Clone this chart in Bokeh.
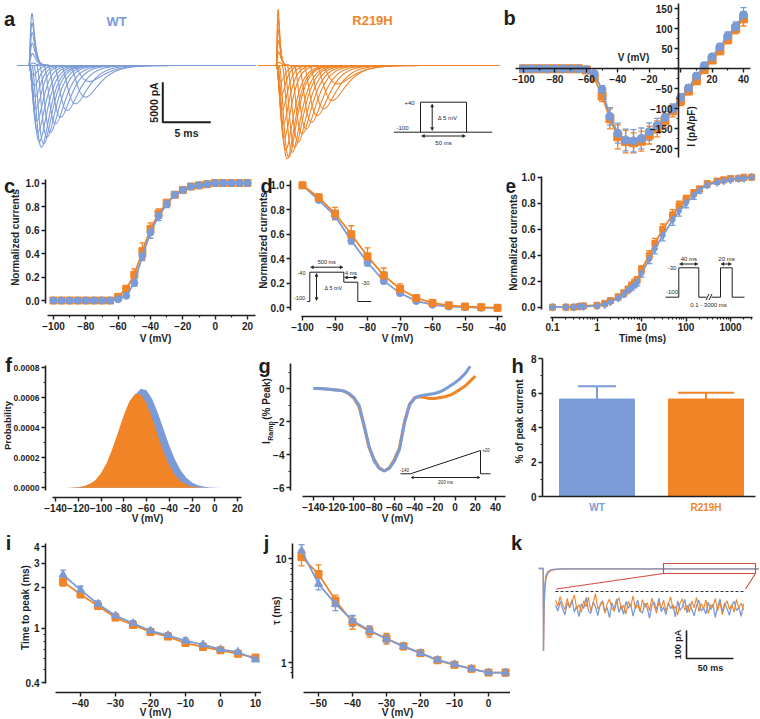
import numpy as np
from bokeh.plotting import figure
from bokeh.layouts import column, row
from bokeh.models import (Range1d, FixedTicker, NumeralTickFormatter, Label, Arrow,
                          NormalHead, TeeHead, Whisker, ColumnDataSource, LinearAxis, LogAxis)
from bokeh.embed import file_html
from bokeh.resources import INLINE

BLUE = "#7B9BD6"
ORANGE = "#F08427"
RED = "#D5493F"
INK = "#1E1E1E"
FONT = "Liberation Sans"

# ======================= data =======================
# (a) sweep families: time to peak (ms) and peak amplitude (pA)
a_wt_tpeak = [6.3, 5.9, 4.86, 4.0, 3.3, 2.78, 2.26, 1.9, 1.56, 1.32, 1.1, 0.95, 0.85, 0.75,
              0.68, 0.6, 0.5, 0.42, 0.38, 0.36, 0.35, 0.34, 0.33]
a_wt_peak = [-2000, -3960, -4790, -5625, -6460, -7290, -8340, -8960, -9790, -10210, -9500, -8300,
             -6900, -5400, -3900, -2500, -1200, 300, 1500, 2800, 4100, 5300, 6500]
a_mut_tpeak = [6.4, 5.83, 4.96, 4.27, 3.68, 3.13, 2.71, 2.29, 1.94, 1.67, 1.31, 1.15, 1.0, 0.85,
               0.75, 0.65, 0.55, 0.5, 0.3, 0.26, 0.24, 0.22, 0.21, 0.2]
a_mut_peak = [-2300, -4375, -5410, -6250, -7090, -7920, -8540, -9590, -10210, -10840, -11460, -11660,
              -10500, -9000, -7300, -5500, -3700, -2000, 400, 1700, 3100, 4500, 5800, 7000]

# (b) I-V relationship (pA/pF)
b_v = [-100, -95, -90, -85, -80, -75, -70, -65, -60, -55, -50, -45, -40, -35, -30, -25, -20, -15,
       -10, -5, 0, 5, 10, 15, 20, 25, 30, 35, 40]
b_wt = [0, 0, 0, 0, 0, 0, 0, 0, -2, -12, -52, -119, -161, -178, -180, -174, -157, -142, -122, -100,
        -72, -48, -18, 8, 30, 55, 82, 105, 135]
b_wt_err = [1, 1, 1, 1, 1, 1, 1, 1, 2, 5, 10, 22, 25, 27, 28, 26, 22, 18, 15, 12, 10, 8, 6, 5, 6, 8,
            10, 12, 18]
b_mut = [0, 0, 0, 0, 0, 0, 0, 0, -3, -22, -68, -125, -170, -182, -185, -181, -166, -150, -130, -105,
         -80, -55, -30, -2, 22, 45, 73, 100, 125]
b_mut_err = [1, 1, 1, 1, 1, 1, 1, 1, 3, 7, 14, 25, 30, 28, 25, 25, 22, 20, 18, 15, 12, 10, 8, 6, 7,
             8, 10, 12, 18]

# (c) activation
c_v = [-100, -95, -90, -85, -80, -75, -70, -65, -60, -55, -50, -45, -40, -35, -30, -25, -20, -15,
       -10, -5, 0, 5, 10, 15, 20]
c_wt = [0, 0, 0, 0, 0, 0, 0, 0, 0.01, 0.04, 0.15, 0.38, 0.58, 0.72, 0.82, 0.9, 0.94, 0.97, 0.98,
        0.99, 1.0, 1.0, 1.0, 1.0, 1.0]
c_wt_err = [0.005, 0.005, 0.005, 0.005, 0.005, 0.005, 0.005, 0.005, 0.008, 0.01, 0.03, 0.04, 0.05,
            0.04, 0.03, 0.02, 0.015, 0.01, 0.01, 0.01, 0.005, 0.005, 0.005, 0.005, 0.005]
c_mut = [0, 0, 0, 0, 0, 0, 0, 0, 0.03, 0.1, 0.22, 0.42, 0.61, 0.74, 0.83, 0.9, 0.94, 0.97, 0.98,
         0.99, 1.0, 1.0, 1.0, 1.0, 1.0]
c_mut_err = [0.005, 0.005, 0.005, 0.005, 0.005, 0.005, 0.005, 0.005, 0.01, 0.02, 0.05, 0.07, 0.05,
             0.04, 0.03, 0.02, 0.015, 0.01, 0.01, 0.01, 0.005, 0.005, 0.005, 0.005, 0.005]

# (d) steady-state inactivation
d_v = [-100, -95, -90, -85, -80, -75, -70, -65, -60, -55, -50, -45, -40]
d_wt = [1.0, 0.88, 0.75, 0.55, 0.37, 0.22, 0.12, 0.055, 0.025, 0.01, 0.005, 0.0, 0.0]
d_wt_err = [0.01, 0.02, 0.03, 0.03, 0.03, 0.025, 0.02, 0.012, 0.01, 0.006, 0.005, 0.003, 0.003]
d_mut = [1.0, 0.9, 0.77, 0.6, 0.42, 0.265, 0.155, 0.08, 0.04, 0.02, 0.01, 0.005, 0.0]
d_mut_err = [0.01, 0.03, 0.05, 0.07, 0.07, 0.06, 0.04, 0.02, 0.015, 0.01, 0.006, 0.005, 0.003]

# (e) recovery from inactivation
e_t = [0.1, 0.2, 0.3, 0.4, 0.5, 1, 1.5, 2, 3, 4, 5, 6, 7, 8, 10, 15, 20, 30, 50, 70, 100, 150, 200,
       300, 500, 700, 1000, 1500, 2000, 3000]
e_wt = [0, 0, 0, 0.005, 0.005, 0.01, 0.02, 0.04, 0.07, 0.1, 0.13, 0.15, 0.17, 0.19, 0.26, 0.37,
        0.45, 0.55, 0.67, 0.74, 0.8, 0.86, 0.9, 0.94, 0.96, 0.97, 0.98, 0.99, 0.99, 1.0]
e_wt_err = [0, 0, 0, 0, 0, 0.005, 0.01, 0.01, 0.015, 0.02, 0.02, 0.02, 0.02, 0.025, 0.03, 0.035,
            0.04, 0.04, 0.04, 0.04, 0.035, 0.03, 0.025, 0.02, 0.015, 0.01, 0.01, 0.01, 0.01, 0.01]
e_mut = [0, 0, 0, 0.005, 0.01, 0.015, 0.03, 0.05, 0.08, 0.11, 0.14, 0.17, 0.19, 0.21, 0.29, 0.4,
         0.49, 0.6, 0.71, 0.78, 0.83, 0.88, 0.91, 0.95, 0.97, 0.98, 0.99, 0.99, 1.0, 1.0]
e_mut_err = [0, 0, 0, 0, 0, 0.005, 0.01, 0.01, 0.015, 0.02, 0.02, 0.02, 0.025, 0.025, 0.03, 0.035,
             0.04, 0.04, 0.04, 0.035, 0.03, 0.025, 0.02, 0.02, 0.015, 0.01, 0.01, 0.01, 0.01, 0.01]

# (f) window probability (x 1e-6)
f_v = [-140, -135, -130, -125, -120, -115, -110, -105, -100, -95, -90, -85, -80, -75, -70, -65,
       -60, -55, -50, -45, -40, -35, -30, -25, -20, -15, -10, -5, 0, 5, 10, 15, 20]
f_wt_1e6 = [0, 0, 0.3, 1.5, 4.8, 11, 23, 46, 84, 143, 224, 324, 434, 538, 618, 658, 648, 590, 498,
            389, 282, 189, 117, 67, 36, 17.5, 8, 3.4, 1.3, 0.5, 0.2, 0, 0]
f_mut_1e6 = [0, 0, 0.5, 1.5, 4.4, 11, 25, 51, 96, 165, 259, 370, 483, 576, 625, 620, 560, 462, 347,
             238, 149, 85, 44, 21, 9, 3.5, 1.3, 0.4, 0, 0, 0, 0, 0]

# (g) ramp currents (% peak)
g_v = [-140, -135, -130, -125, -120, -115, -110, -105, -100, -95, -90, -85, -80, -75, -70, -65,
       -60, -55, -50, -45, -40, -35, -30, -25, -20, -15, -10, -5, 0, 5, 10, 15, 20]
g_wt = [0.0, 0.0, -0.02, -0.04, -0.07, -0.1, -0.16, -0.3, -0.55, -1.0, -2.2, -3.5, -4.4, -4.85,
        -5.0, -4.85, -4.4, -3.7, -2.1, -1.0, -0.6, -0.45, -0.4, -0.35, -0.3, -0.2, -0.05, 0.15,
        0.35, 0.6, 0.9, 1.35]
g_mut = [0.0, 0.0, -0.02, -0.04, -0.07, -0.1, -0.16, -0.32, -0.6, -1.1, -2.3, -3.6, -4.3, -4.8,
         -5.0, -4.8, -4.3, -3.6, -2.0, -0.95, -0.55, -0.5, -0.55, -0.6, -0.6, -0.55, -0.5, -0.4,
         -0.25, -0.05, 0.15, 0.45, 0.75]

# (h) persistent current (% of peak)
h_groups = ["WT", "R219H"]
h_mean = [5.65, 5.65]
h_sem = [0.74, 0.36]

# (i) time to peak (ms)
i_v = [-45, -40, -35, -30, -25, -20, -15, -10, -5, 0, 5, 10]
i_wt = [2.48, 1.92, 1.51, 1.24, 1.09, 0.96, 0.89, 0.81, 0.76, 0.70, 0.67, 0.59]
i_wt_err = [0.2, 0.12, 0.08, 0.05, 0.05, 0.04, 0.04, 0.04, 0.02, 0.02, 0.02, 0.02]
i_mut = [2.2, 1.78, 1.46, 1.2, 1.06, 0.94, 0.87, 0.78, 0.73, 0.69, 0.65, 0.61]
i_mut_err = [0.15, 0.1, 0.06, 0.04, 0.04, 0.03, 0.03, 0.03, 0.02, 0.02, 0.02, 0.02]

# (j) inactivation time constant (ms)
j_v = [-55, -50, -45, -40, -35, -30, -25, -20, -15, -10, -5, 0, 5]
j_wt = [11.9, 5.7, 3.66, 2.53, 2.03, 1.69, 1.43, 1.23, 1.06, 0.96, 0.87, 0.80, 0.80]
j_wt_err = [1.7, 0.7, 0.5, 0.3, 0.2, 0.15, 0.1, 0.08, 0.06, 0.05, 0.03, 0.03, 0.06]
j_mut = [10.3, 7.1, 3.95, 2.45, 2.0, 1.7, 1.43, 1.23, 1.05, 0.95, 0.87, 0.80, 0.80]
j_mut_err = [1.8, 1.6, 0.5, 0.35, 0.25, 0.2, 0.1, 0.08, 0.06, 0.05, 0.03, 0.03, 0.03]

# (k) persistent current: overview trace (ms, pA) and magnified segment (pA, 2.5 ms samples)
k_ov_t = [-4, 6, 6.6, 7.2, 8, 9.5, 12, 16, 22, 32, 50, 480]
k_ov_wt = [0, 0, -10300, -7000, -4200, -2000, -900, -400, -180, -90, -50, -48]
k_ov_mut = [0, 0, -10300, -7600, -5000, -2600, -1300, -600, -280, -130, -55, -48]
k_wt_noise = [-48, -70, -35, -62, -84, -41, -57, -29, -73, -52, -90, -44, -61, -22, -67, -79, -38,
              -55, -86, -47, -33, -71, -58, -93, -40, -64, -26, -75, -50, -82, -36, -60, -45, -88,
              -53, -31, -69, -77, -42, -58, -95, -49, -37, -66, -24, -72, -56, -83, -39, -61, -47,
              -91, -34, -68, -54, -28, -76, -43, -63, -87, -51, -30, -70, -59, -80, -38, -65, -46,
              -92, -55, -27, -74, -41, -62, -85, -49, -35, -68, -57, -89, -44]
k_mut_noise = [-30, -52, -18, -45, -66, -25, -58, -38, -12, -61, -47, -74, -33, -55, -20, -69, -42,
               -8, -63, -50, -36, -78, -44, -27, -59, -71, -39, -22, -65, -48, -81, -35, -54, -16,
               -62, -46, -73, -29, -57, -40, -68, -24, -52, -77, -37, -60, -31, -70, -45, -19, -64,
               -53, -84, -41, -26, -67, -49, -75, -34, -58, -21, -72, -43, -62, -30, -79, -47, -56,
               -25, -69, -38, -83, -51, -33, -64, -46, -74, -28, -59, -42, -66]
K_DT = 2.5


# ======================= helpers =======================
def _map(ca, cb, P, log):
    (pa, va), (pb, vb) = ca, cb
    if log:
        va, vb = np.log10(va), np.log10(vb)
    v = va + (P - pa) * (vb - va) / (pb - pa)
    return float(10 ** v) if log else float(v)


class Panel:
    """A figure whose frame fills its box; (pixel, value) pairs calibrate its scales."""

    def __init__(self, box, xcal, ycal, xlog=False, ylog=False):
        self.box = box
        self.xcal, self.ycal, self.xlog, self.ylog = xcal, ycal, xlog, ylog
        X0, Y0, X1, Y1 = box
        self.p = figure(width=X1 - X0, height=Y1 - Y0,
                        x_range=Range1d(self.x(X0), self.x(X1)),
                        y_range=Range1d(self.y(Y1), self.y(Y0)),
                        x_axis_type="log" if xlog else "linear",
                        y_axis_type="log" if ylog else "linear",
                        x_axis_location=None, y_axis_location=None,
                        output_backend="svg", toolbar_location=None, title=None,
                        min_border=0, min_border_left=0, min_border_right=0,
                        min_border_top=0, min_border_bottom=0,
                        background_fill_color="white", border_fill_color="white",
                        outline_line_color=None)
        self.p.xgrid.visible = False
        self.p.ygrid.visible = False

    def x(self, px):
        return _map(self.xcal[0], self.xcal[1], px, self.xlog)

    def y(self, py):
        return _map(self.ycal[0], self.ycal[1], py, self.ylog)

    def axis(self, side, at_px, span_px, ticks, minor=(), fmt=None, size=10, over=None):
        if side == "below":
            loc = self.y(at_px)
            b = sorted([self.x(span_px[0]), self.x(span_px[1])])
            cls = LogAxis if self.xlog else LinearAxis
        else:
            loc = self.x(at_px)
            b = sorted([self.y(span_px[0]), self.y(span_px[1])])
            cls = LogAxis if self.ylog else LinearAxis
        ax = cls(fixed_location=loc, bounds=(b[0], b[1]))
        ax.ticker = FixedTicker(ticks=list(ticks), minor_ticks=list(minor))
        if fmt is not None:
            ax.formatter = fmt
        if over:
            ax.major_label_overrides = over
        ax.axis_line_color = INK
        ax.axis_line_width = 1.6
        ax.major_tick_line_color = INK
        ax.major_tick_line_width = 1.4
        ax.major_tick_in = 0
        ax.major_tick_out = 4
        ax.minor_tick_line_color = INK
        ax.minor_tick_line_width = 1.2
        ax.minor_tick_in = 0
        ax.minor_tick_out = 2
        ax.major_label_text_font = FONT
        ax.major_label_text_font_size = f"{size}px"
        ax.major_label_text_font_style = "bold"
        ax.major_label_text_color = INK
        ax.major_label_standoff = 2
        self.p.add_layout(ax, side)

    def text(self, x, y, t, size=10, color=INK, align="center", baseline="middle", angle=0.0,
             bold=True):
        X0, Y0, X1, Y1 = self.box
        self.p.add_layout(Label(x=x - X0, y=Y1 - y, x_units="screen", y_units="screen", text=t,
                                text_font=FONT, text_font_size=f"{size}px",
                                text_font_style="bold" if bold else "normal", text_color=color,
                                text_align=align, text_baseline=baseline, angle=angle))

    def vtext(self, x, y, t, size=10):
        self.text(x, y, t, size=size, angle=np.pi / 2)

    def letter(self, x, y, t):
        self.text(x, y, t, size=20)

    def seg(self, x0, y0, x1, y1, color=INK, width=1.0, both=False, hs=4):
        X0, Y0, X1, Y1 = self.box
        kw = dict(x_start=x0 - X0, y_start=Y1 - y0, x_end=x1 - X0, y_end=Y1 - y1,
                  start_units="screen", end_units="screen", line_color=color, line_width=width)
        if both:
            kw["start"] = NormalHead(size=hs, fill_color=color, line_color=color, line_width=0.5)
            kw["end"] = NormalHead(size=hs, fill_color=color, line_color=color, line_width=0.5)
        else:
            kw["end"] = None
        self.p.add_layout(Arrow(**kw))

    def poly(self, pts, color=INK, width=1.0):
        for (x0, y0), (x1, y1) in zip(pts[:-1], pts[1:]):
            self.seg(x0, y0, x1, y1, color, width)


def errbars(p, x, y, e, color, size=6, width=1.3, lower=True):
    y = np.asarray(y, float)
    e = np.asarray(e, float)
    src = ColumnDataSource(dict(x=list(x), lo=list(y - e) if lower else list(y), up=list(y + e)))
    p.add_layout(Whisker(source=src, base="x", lower="lo", upper="up", dimension="height",
                         line_color=color, line_width=width,
                         upper_head=TeeHead(size=size, line_color=color, line_width=width),
                         lower_head=TeeHead(size=size, line_color=color, line_width=width)
                         if lower else None))


def series(p, x, y, err, color, marker, size, lw=1.8):
    errbars(p, x, y, err, color)
    p.line(x, y, line_color=color, line_width=lw)
    p.scatter(x, y, marker=marker, size=size, fill_color=color, line_color=color)


F1 = NumeralTickFormatter(format="0.0")

# ======================= (a) =======================
A = Panel((0, 0, 500, 172), ((28.3, 0.0), (124.3, 10.0)), ((65, 0.0), (185, -15000.0)))
pa = A.p
pa.extra_x_ranges = {"mut": Range1d(_map((275.7, 0.0), (371.7, 10.0), 0, False),
                                    _map((275.7, 0.0), (371.7, 10.0), 500, False))}


def sweep(t, peak, tpeak):
    # m^3 h shaped sweep placed so that its extremum falls on (tpeak, peak)
    delay = max(0.0, 0.85 * (tpeak - 1.0))
    tp = tpeak - delay
    r = 1.0
    u0 = np.log(3 * r + 1)
    tau = tp / u0
    u = np.clip((t - delay) / tau, 0, None)
    s = (1 - np.exp(-u)) ** 3 * np.exp(-u / r)
    s0 = (1 - np.exp(-u0)) ** 3 * np.exp(-u0 / r)
    return peak * s / s0


t_wt = np.arange(-1.2, 23.6, 0.02)
pa.multi_line([t_wt] * len(a_wt_peak), [sweep(t_wt, a, tp) for a, tp in zip(a_wt_peak, a_wt_tpeak)],
              line_color=BLUE, line_width=1.1)
t_mut = np.arange(-1.85, 24.3, 0.02)
pa.multi_line([t_mut] * len(a_mut_peak),
              [sweep(t_mut, a, tp) for a, tp in zip(a_mut_peak, a_mut_tpeak)],
              line_color=ORANGE, line_width=1.1, x_range_name="mut")
SB_T, SB_I = 5, 5000
sb_x, sb_y = A.x(162.3), A.y(121.7)
pa.line([sb_x, sb_x, sb_x + SB_T], [sb_y + SB_I, sb_y, sb_y], line_color=INK, line_width=2)
A.vtext(153, 102, "5000 pA", size=10.5)
A.text(186, 132.5, "5 ms", size=10.5)
A.text(116, 21, "WT", size=13, color=BLUE)
A.text(372, 20, "R219H", size=13, color=ORANGE)
A.letter(9, 18, "a")
A.seg(393.3, 131.7, 491.7, 131.7)
A.poly([(420, 131.7), (420, 101.7), (466, 101.7), (466, 131.7)])
A.seg(431.7, 103.5, 431.7, 130, both=True, hs=3)
A.seg(421, 135.5, 465, 135.5, both=True, hs=3)
A.text(409, 102.5, "+40", size=6, bold=False)
A.text(402, 127.5, "-100", size=6, bold=False)
A.text(447, 117, "Δ 5 mV", size=6, bold=False)
A.text(443, 142, "50 ms", size=6, bold=False)

# ======================= (b) =======================
B = Panel((500, 0, 760, 172), ((523, -100), (743, 40)), ((68.3, 0), (148.3, -200)))
B.axis("below", 68.3, (515, 750), [-100, -80, -60, -40, -20, 0, 20, 40],
       [-90, -70, -50, -30, -10, 10, 30], over={0: ""})
B.axis("left", 678, (157, 3), [-200, -150, -100, -50, 0, 50, 100, 150],
       [-175, -125, -75, -25, 25, 75, 125], over={0: ""})
series(B.p, b_v, b_mut, b_mut_err, ORANGE, "square", 8)
series(B.p, b_v, b_wt, b_wt_err, BLUE, "circle", 8)
B.text(633, 57, "V (mV)")
B.vtext(691, 126, "I (pA/pF)")
B.letter(509, 17, "b")

# ======================= (c) =======================
C = Panel((0, 172, 256, 352), ((53, -100), (247, 20)), ((300, 0), (206, 0.8)))
C.axis("below", 315, (47, 255), [-100, -80, -60, -40, -20, 0, 20], [-90, -70, -50, -30, -10, 10])
C.axis("left", 45, (303, 179), [0, 0.2, 0.4, 0.6, 0.8, 1.0], fmt=F1)
series(C.p, c_v, c_mut, c_mut_err, ORANGE, "square", 7)
series(C.p, c_v, c_wt, c_wt_err, BLUE, "circle", 7)
C.text(155, 338, "V (mV)")
C.vtext(15, 237, "Normalized currents")
C.letter(9, 185, "c")

# ======================= (d) =======================
D = Panel((256, 172, 506, 352), ((302, -100), (497, -40)), ((307.3, 0), (209.3, 0.8)))
D.axis("below", 316, (301, 502), [-100, -90, -80, -70, -60, -50, -40])
D.axis("left", 290, (310, 180), [0, 0.2, 0.4, 0.6, 0.8, 1.0], fmt=F1)
series(D.p, d_v, d_wt, d_wt_err, BLUE, "circle", 7)
series(D.p, d_v, d_mut, d_mut_err, ORANGE, "square", 7)
D.text(397, 338, "V (mV)")
D.vtext(263, 240, "Normalized currents")
D.letter(266, 185, "d")
D.poly([(306.7, 301), (309.3, 301), (309.3, 271.7), (343.3, 271.7), (343.3, 281.7),
        (357.3, 281.7), (357.3, 301), (370.7, 301)])
D.seg(310, 266.7, 342.5, 266.7, both=True, hs=3)
D.seg(344, 277, 356.5, 277, both=True, hs=3)
D.seg(316, 273, 316, 300, both=True, hs=3)
D.text(326.3, 261.5, "500 ms", size=5.5, bold=False)
D.text(350.5, 272, "4 ms", size=5.5, bold=False)
D.text(301, 272, "-40", size=5.5, bold=False)
D.text(299, 297, "-100", size=5.5, bold=False)
D.text(365, 282, "-30", size=5.5, bold=False)
D.text(333, 287, "Δ 5 mV", size=5.5, bold=False)

# ======================= (e) =======================
E = Panel((506, 172, 760, 352), ((552, 0.1), (730, 1000)), ((306.7, 0), (202.7, 0.8)), xlog=True)
e_minor = [m * d for d in (0.1, 1, 10, 100) for m in range(2, 10)] + [2000, 3000]
E.axis("below", 316.7, (550, 752), [0.1, 1, 10, 100, 1000], e_minor,
       fmt=NumeralTickFormatter(format="0.[0]"))
E.axis("left", 541, (309, 176), [0, 0.2, 0.4, 0.6, 0.8, 1.0], fmt=F1)
series(E.p, e_t, e_mut, e_mut_err, ORANGE, "square", 6)
series(E.p, e_t, e_wt, e_wt_err, BLUE, "diamond", 8)
E.text(642, 338, "Time (ms)")
E.vtext(513, 242, "Normalized currents")
E.letter(510, 185, "e")
E.poly([(665, 296.7), (678.3, 296.7), (678.3, 267.3), (698.3, 267.3), (698.3, 296.7),
        (706, 296.7)])
E.poly([(711, 296.7), (720, 296.7), (720, 267.3), (731.7, 267.3), (731.7, 296.7), (744, 296.7)])
E.seg(705.5, 299.5, 708.5, 293.5)
E.seg(708.5, 299.5, 711.5, 293.5)
E.seg(679, 263.5, 697.5, 263.5, both=True, hs=3)
E.seg(720.5, 263.5, 731, 263.5, both=True, hs=3)
E.text(688.3, 258, "40 ms", size=6, bold=False)
E.text(726, 258, "20 ms", size=6, bold=False)
E.text(671.5, 267.5, "-30", size=6, bold=False)
E.text(671.5, 291, "-100", size=6, bold=False)
E.text(708, 304, "0.1 - 3000 ms", size=6, bold=False)

# ======================= (f) =======================
Fp = Panel((0, 352, 256, 528), ((55, -140), (237, 20)), ((487.3, 0), (367, 0.0008)))
Fp.axis("below", 497.3, (52, 241), [-140, -120, -100, -80, -60, -40, -20, 0, 20])
Fp.axis("left", 45, (490, 365), [0, 0.0002, 0.0004, 0.0006, 0.0008],
        [0.0001, 0.0003, 0.0005, 0.0007], fmt=NumeralTickFormatter(format="0.0000"), size=8.5)
f_wt = np.array(f_wt_1e6) * 1e-6
f_mut = np.array(f_mut_1e6) * 1e-6
Fp.p.varea(x=f_v, y1=0, y2=f_wt, fill_color=BLUE)
Fp.p.varea(x=f_v, y1=0, y2=f_mut, fill_color=ORANGE)
Fp.text(147, 518, "V (mV)")
Fp.vtext(7, 425, "Probability", size=9.5)
Fp.letter(8, 364, "f")

# ======================= (g) =======================
G = Panel((256, 352, 506, 528), ((313, -140), (495, 40)), ((388, 0), (487, -6)))
G.axis("below", 496, (302, 505), [-140, -120, -100, -80, -60, -40, -20, 0, 20, 40])
G.axis("left", 290, (490, 363), [-6, -4, -2, 0], [-5, -3, -1, 1])
G.p.line(g_v, g_mut, line_color=ORANGE, line_width=3)
G.p.line(g_v[:len(g_wt)], g_wt, line_color=BLUE, line_width=3)
G.text(397, 518, "V (mV)")
G.text(266, 442, "I", size=10, angle=np.pi / 2)
G.text(269.5, 430.5, "Ramp", size=7, angle=np.pi / 2)
G.text(266, 398.5, "(% Peak)", size=10, angle=np.pi / 2)
G.letter(264, 365, "g")
G.poly([(400, 473.3), (410, 473.3), (480, 450), (480, 473.3), (490, 473.3)])
G.seg(410.5, 477, 479.5, 477, both=True, hs=2.5)
G.text(404, 469, "-140", size=4.5, bold=False)
G.text(485.5, 449.5, "+20", size=4.5, bold=False)
G.text(445, 481.5, "200 ms", size=4.5, bold=False)

# ======================= (h) =======================
H = Panel((506, 352, 760, 528), ((596.5, 1), (705.5, 2)), ((496, 0), (358, 8)))
H.axis("below", 496, (542, 755), [])
H.axis("left", 542, (496, 358), [0, 2, 4, 6, 8], [1, 3, 5, 7])
h_x = [1, 2]
h_cols = [BLUE, ORANGE]
for xx, m, s, c, cap in zip(h_x, h_mean, h_sem, h_cols, (38, 56)):
    errbars(H.p, [xx], [m], [s], c, size=cap, width=2, lower=False)
H.p.vbar(x=h_x, top=h_mean, width=0.688, fill_color=h_cols, line_color=h_cols)
H.text(596.5, 507, h_groups[0], size=10, color=BLUE)
H.text(705.5, 507, h_groups[1], size=10, color=ORANGE)
H.vtext(519, 421, "% of peak current")
H.letter(517, 365, "h")

# ======================= (i) =======================
I = Panel((0, 528, 261, 719), ((80, -40), (255, 10)), ((546, 4), (682, 0.4)), ylog=True)
I.axis("below", 692, (55, 261), [-40, -30, -20, -10, 0, 10])
I.axis("left", 45, (683, 543), [0.4, 1, 2, 3, 4], [0.5, 0.6, 0.7, 0.8, 0.9],
       fmt=NumeralTickFormatter(format="0.[0]"))
series(I.p, i_v, i_mut, i_mut_err, ORANGE, "square", 7)
series(I.p, i_v, i_wt, i_wt_err, BLUE, "triangle", 8)
I.text(155, 712, "V (mV)")
I.vtext(25, 607, "Time to peak (ms)")
I.letter(8, 542, "i")

# ======================= (j) =======================
J = Panel((261, 528, 510, 719), ((318, -50), (488, 0)), ((558, 10), (662, 1)), ylog=True)
J.axis("below", 692, (303, 510), [-50, -40, -30, -20, -10, 0])
J.axis("left", 292, (678, 543), [1, 10], [0.8, 0.9, 2, 3, 4, 5, 6, 7, 8, 9],
       fmt=NumeralTickFormatter(format="0"))
series(J.p, j_v, j_mut, j_mut_err, ORANGE, "square", 7)
series(J.p, j_v, j_wt, j_wt_err, BLUE, "triangle", 8)
J.text(397, 712, "V (mV)")
J.vtext(276, 610, "τ (ms)")
J.letter(266, 542, "j")

# ======================= (k) =======================
K = Panel((510, 528, 760, 719), ((555, 0), (649, 100)), ((591, 0), (619, -100)))
pk = K.p
pk.extra_x_ranges = {"ov": Range1d(_map((540, 0), (640, 220), 510, False),
                                   _map((540, 0), (640, 220), 760, False))}
pk.extra_y_ranges = {"ov": Range1d(_map((568, 0), (668, -12500), 719, False),
                                   _map((568, 0), (668, -12500), 528, False))}
pk.line(k_ov_t, k_ov_mut, line_color=ORANGE, line_width=1.3, x_range_name="ov", y_range_name="ov")
pk.line(k_ov_t, k_ov_wt, line_color=BLUE, line_width=1.3, x_range_name="ov", y_range_name="ov")
box_t = (270.6, 473.0)
box_i = (-625, 625)
pk.quad(left=[box_t[0]], right=[box_t[1]], bottom=[box_i[0]], top=[box_i[1]], fill_color=None,
        line_color=RED, line_width=1.2, x_range_name="ov", y_range_name="ov")
K.seg(663, 573, 556, 588.5, color=RED, width=1.1)
K.seg(755, 573, 745, 588.5, color=RED, width=1.1)
k_t = np.arange(len(k_wt_noise)) * K_DT
pk.line([k_t[0], k_t[-1]], [0, 0], line_color="#333333", line_width=1, line_dash="3 2")
pk.line(k_t, k_wt_noise, line_color=BLUE, line_width=1.3)
pk.line(k_t, k_mut_noise, line_color=ORANGE, line_width=1.1)
SBK_T, SBK_I = 50, 100
kx, ky = K.x(686), K.y(658)
pk.line([kx, kx, kx + SBK_T], [ky + SBK_I, ky, ky], line_color=INK, line_width=1.6)
K.vtext(677.5, 644, "100 pA", size=9)
K.text(710, 667.5, "50 ms", size=9)
K.letter(516, 542, "k")

layout = column(row(A.p, B.p), row(C.p, D.p, E.p), row(Fp.p, G.p, H.p), row(I.p, J.p, K.p))
open("out.html", "w").write(file_html(layout, INLINE, title="Nav channel R219H"))
